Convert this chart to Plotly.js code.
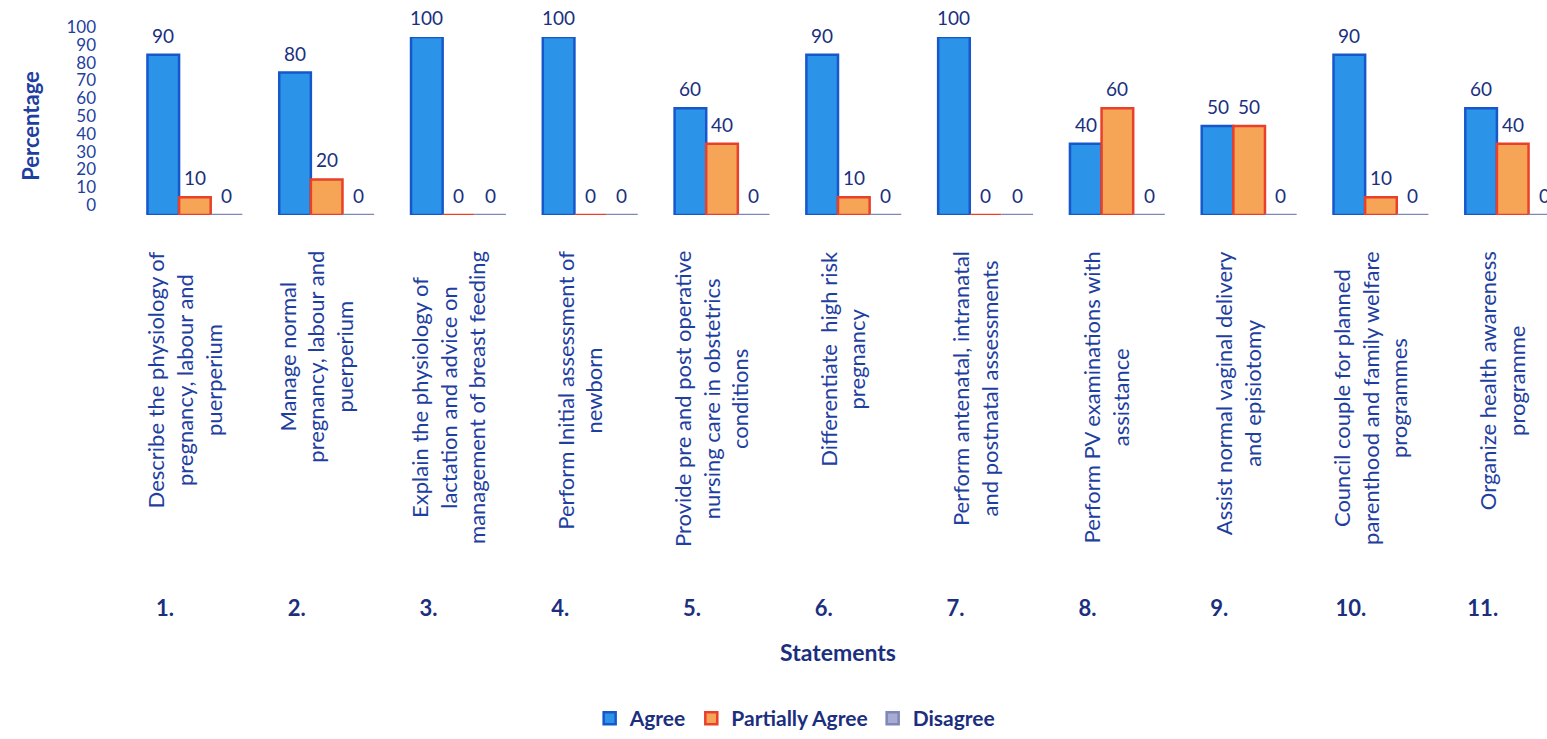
<!DOCTYPE html>
<html>
<head>
<meta charset="utf-8">
<script src="https://cdn.plot.ly/plotly-3.0.1.min.js"></script>
<style>html,body{margin:0;padding:0;background:#fff;}#chart{width:1547px;height:739px;}</style>
</head>
<body>
<div id="chart"></div>
<script>
const categories = ["1.","2.","3.","4.","5.","6.","7.","8.","9.","10.","11."];
const statements = [
  "Describe the physiology of<br>pregnancy, labour and<br>puerperium",
  "Manage normal<br>pregnancy, labour and<br>puerperium",
  "Explain the physiology of<br>lactation and advice on<br>management of breast feeding",
  "Perform Initial assessment of<br>newborn",
  "Provide pre and post operative<br>nursing care in obstetrics<br>conditions",
  "Differentiate  high risk<br>pregnancy",
  "Perform antenatal, intranatal<br>and postnatal assessments",
  "Perform PV examinations with<br>assistance",
  "Assist normal vaginal delivery<br>and episiotomy",
  "Council couple for planned<br>parenthood and family welfare<br>programmes",
  "Organize health awareness<br>programme"
];
const agree    = [90, 80, 100, 100, 60, 90, 100, 40, 50, 90, 60];
const partial  = [10, 20,   0,   0, 40, 10,   0, 60, 50, 10, 40];
const disagree = [ 0,  0,   0,   0,  0,  0,   0,  0,  0,  0,  0];
const seriesNames = ["Agree", "Partially Agree", "Disagree"];

const FONT = "Lato, 'Open Sans', sans-serif";
const blueText = "#1f3fa0";
const navy = "#1b2f7e";
const BARGAP = 0.28;

const fills = ["#2b93e8", "#f6a456", "#a9acd2"];
const edges = ["#1658cc", "#e8402a", "#7f86b8"];
const seriesValues = [agree, partial, disagree];

const traces = seriesValues.map((vals, k) => ({
  type: "bar",
  name: seriesNames[k],
  x: categories,
  y: vals,
  marker: {color: fills[k], line: {color: edges[k], width: 2.5}},
  hoverinfo: "x+y+name"
}));

const annotations = [];
const w = (1 - BARGAP) / 3;
seriesValues.forEach((vals, k) => {
  vals.forEach((v, i) => {
    annotations.push({
      x: i + (k - 1) * w, xref: "x",
      y: v, yref: "y",
      text: String(v),
      showarrow: false,
      xanchor: "center", yanchor: "bottom",
      yshift: 6,
      font: {family: FONT, size: 19, color: navy}
    });
  });
});
statements.forEach((s, i) => {
  annotations.push({
    x: i, xref: "x",
    y: 0, yref: "paper",
    yshift: -34, xshift: -11,
    text: s,
    textangle: -90,
    align: "center",
    showarrow: false,
    xanchor: "center", yanchor: "top",
    font: {family: FONT, size: 22, color: blueText}
  });
});

const layout = {
  width: 1547, height: 739,
  margin: {l: 129, r: 0, t: 37, b: 524},
  paper_bgcolor: "#ffffff", plot_bgcolor: "#ffffff",
  barmode: "group", bargap: BARGAP, bargroupgap: 0,
  showlegend: true,
  legend: {
    orientation: "h", xref: "container", yref: "container",
    x: 0.514, xanchor: "center", y: -0.024, yanchor: "bottom",
    font: {family: FONT, size: 21, color: navy, weight: "bold"}
  },
  xaxis: {
    type: "category",
    range: [-0.5, 10.26],
    showgrid: false, zeroline: false, showline: false, ticks: "",
    ticklabelstandoff: 378, ticklabelshift: -30,
    tickfont: {family: FONT, size: 22, color: navy, weight: "bold"},
    title: {text: "Statements", standoff: 24, font: {family: FONT, size: 23, color: navy, weight: "bold"}}
  },
  yaxis: {
    range: [0, 100], tick0: 0, dtick: 10,
    showgrid: false, zeroline: false, showline: false, ticks: "",
    ticklabelstandoff: 32, ticklabelshift: -10,
    tickfont: {family: FONT, size: 17, color: blueText},
    title: {text: "Percentage", standoff: 20, font: {family: FONT, size: 22, color: blueText, weight: "bold"}}
  },
  annotations: annotations
};

Plotly.newPlot("chart", traces, layout, {displayModeBar: false, responsive: false});
</script>
</body>
</html>
